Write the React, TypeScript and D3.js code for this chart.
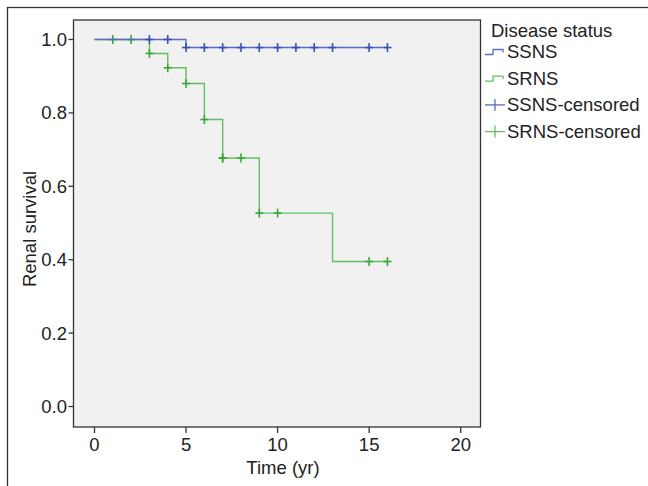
import React, { useRef, useEffect } from "react";
import * as d3 from "d3";

// Kaplan-Meier steps
const ssnsStepTimes = [0, 5];
const ssnsSurvival = [1.0, 0.978];
const ssnsCensored = [3, 4, 5, 6, 7, 8, 9, 10, 11, 12, 13, 15, 16];

const srnsStepTimes = [0, 3, 4, 5, 6, 7, 9, 13];
const srnsSurvival = [1.0, 0.962, 0.923, 0.88, 0.782, 0.677, 0.527, 0.395];
const srnsCensored = [1, 2, 3, 4, 5, 6, 7, 7, 8, 9, 10, 15, 16];

const followUpEnd = 16;

const xTicks = [0, 5, 10, 15, 20];
const yTicks = [0, 0.2, 0.4, 0.6, 0.8, 1.0];

const legendTitle = "Disease status";
const legendItems = ["SSNS", "SRNS", "SSNS-censored", "SRNS-censored"];

const BLUE_LINE = "#5a6cc6";
const BLUE_MARK = "#3a4fae";
const GREEN_LINE = "#62c062";
const GREEN_MARK = "#3aa63a";

function App() {
  const svgRef = useRef(null);

  useEffect(() => {
    const svg = d3.select(svgRef.current);
    svg.selectAll("*").remove();

    const font = "'Liberation Sans', Arial, sans-serif";
    const fs = 18.5;
    const frame = { left: 73.5, right: 480.5, top: 20, bottom: 427 };

    const x = d3.scaleLinear().domain([0, 20]).range([94.5, 460.7]);
    const y = d3.scaleLinear().domain([0, 1]).range([406.5, 39.5]);

    // outer border
    svg
      .append("rect")
      .attr("x", 7.5)
      .attr("y", 7.5)
      .attr("width", 660)
      .attr("height", 500)
      .attr("fill", "white")
      .attr("stroke", "#333")
      .attr("stroke-width", 1.3);

    // plot frame
    svg
      .append("rect")
      .attr("x", frame.left)
      .attr("y", frame.top)
      .attr("width", frame.right - frame.left)
      .attr("height", frame.bottom - frame.top)
      .attr("fill", "#f1f1f1")
      .attr("stroke", "#333")
      .attr("stroke-width", 1.3);

    // y axis ticks
    const yg = svg.append("g").attr("font-family", font).attr("font-size", fs).attr("fill", "#222");
    yTicks.forEach((t) => {
      yg.append("line")
        .attr("x1", frame.left - 5)
        .attr("x2", frame.left)
        .attr("y1", y(t))
        .attr("y2", y(t))
        .attr("stroke", "#333")
        .attr("stroke-width", 1.3);
      yg.append("text")
        .attr("x", frame.left - 6.5)
        .attr("y", y(t) + 6.5)
        .attr("text-anchor", "end")
        .text(d3.format(".1f")(t));
    });

    // x axis ticks
    const xg = svg.append("g").attr("font-family", font).attr("font-size", fs).attr("fill", "#222");
    xTicks.forEach((t) => {
      xg.append("line")
        .attr("x1", x(t))
        .attr("x2", x(t))
        .attr("y1", frame.bottom)
        .attr("y2", frame.bottom + 6)
        .attr("stroke", "#333")
        .attr("stroke-width", 1.3);
      xg.append("text")
        .attr("x", x(t))
        .attr("y", 451)
        .attr("text-anchor", "middle")
        .text(t);
    });

    // axis titles
    svg
      .append("text")
      .attr("x", 283)
      .attr("y", 474)
      .attr("text-anchor", "middle")
      .attr("font-family", font)
      .attr("font-size", fs)
      .attr("fill", "#222")
      .text("Time (yr)");

    svg
      .append("text")
      .attr("transform", "translate(36,229) rotate(-90)")
      .attr("text-anchor", "middle")
      .attr("font-family", font)
      .attr("font-size", fs)
      .attr("fill", "#222")
      .text("Renal survival");

    // survival curves
    const series = [
      { times: ssnsStepTimes, surv: ssnsSurvival, cens: ssnsCensored, line: BLUE_LINE, mark: BLUE_MARK },
      { times: srnsStepTimes, surv: srnsSurvival, cens: srnsCensored, line: GREEN_LINE, mark: GREEN_MARK },
    ];

    const stepLine = d3
      .line()
      .x((d) => x(d[0]))
      .y((d) => y(d[1]))
      .curve(d3.curveStepAfter);

    const survAt = (s, t) => {
      let v = s.surv[0];
      s.times.forEach((tt, i) => {
        if (tt <= t) v = s.surv[i];
      });
      return v;
    };

    // draw green first so blue sits on top, as in the figure
    [series[1], series[0]].forEach((s) => {
      const pts = s.times.map((t, i) => [t, s.surv[i]]);
      pts.push([followUpEnd, s.surv[s.surv.length - 1]]);
      svg
        .append("path")
        .attr("d", stepLine(pts))
        .attr("fill", "none")
        .attr("stroke", s.line)
        .attr("stroke-width", 1.4);

      const g = svg.append("g").attr("stroke", s.mark).attr("stroke-width", 1.6);
      s.cens.forEach((t) => {
        const cx = x(t);
        const cy = y(survAt(s, t));
        g.append("line").attr("x1", cx).attr("x2", cx).attr("y1", cy - 4.5).attr("y2", cy + 4.5);
        g.append("line").attr("x1", cx - 4).attr("x2", cx + 4).attr("y1", cy).attr("y2", cy);
      });
    });

    // legend
    const lg = svg.append("g").attr("font-family", font).attr("font-size", fs).attr("fill", "#222");
    lg.append("text").attr("x", 491).attr("y", 36.5).text(legendTitle);

    const colors = [BLUE_LINE, GREEN_LINE, BLUE_LINE, GREEN_LINE];
    legendItems.forEach((label, i) => {
      const base = 58 + i * 26.7;
      const cy = base - 6.5;
      if (i < 2) {
        lg.append("path")
          .attr("d", `M485,${cy + 3}H493V${cy - 2}H503V${cy + 1}`)
          .attr("fill", "none")
          .attr("stroke", colors[i])
          .attr("stroke-width", 1.3);
      } else {
        lg.append("line")
          .attr("x1", 485).attr("x2", 505).attr("y1", cy).attr("y2", cy)
          .attr("stroke", colors[i]).attr("stroke-width", 1.3);
        lg.append("line")
          .attr("x1", 495).attr("x2", 495).attr("y1", cy - 6).attr("y2", cy + 6)
          .attr("stroke", colors[i]).attr("stroke-width", 1.3);
      }
      lg.append("text").attr("x", 507).attr("y", base).text(label);
    });
  }, []);

  return (
    <svg
      ref={svgRef}
      width={648}
      height={486}
      style={{ position: "absolute", left: 0, top: 0, background: "white" }}
    />
  );
}

export default App;
